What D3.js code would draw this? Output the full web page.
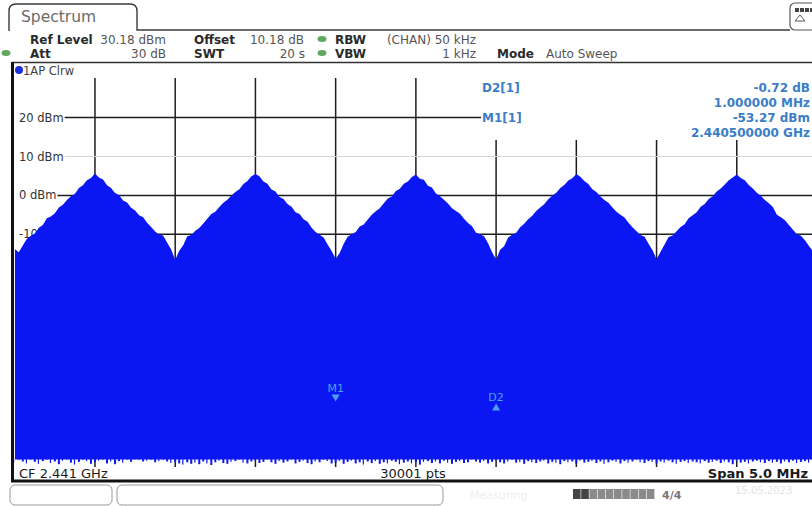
<!DOCTYPE html>
<html><head><meta charset="utf-8">
<script src="https://cdn.jsdelivr.net/npm/d3@7"></script>
<style>body{margin:0;background:#fff;overflow:hidden} svg{display:block;font-family:"DejaVu Sans",sans-serif;}</style>
</head><body><svg id="c" width="812" height="506"></svg>
<script>
// ---- data ----
const startMHz = 2438.5, stopMHz = 2443.5, stepMHz = 0.025;
const refLevel = 30.18, bottomLevel = -69.82;
const traceDbm = [
-13.8,-14.6,-12.9,-11.2,-10.4,-9.8,-8.3,-7.6,-5.9,-5.4,-4.6,-3.1,-2.4,-1.2,-0.2,0.4,1.9,2.6,3.9,4.5,5.6,
4.6,4.1,2.6,1.9,0.6,0.1,-1.3,-1.8,-3.2,-3.9,-5.1,-5.6,-7.0,-8.1,-9.3,-10.1,-10.3,-12.2,-13.9,-16.6,
-14.2,-12.8,-10.5,-10.2,-9.1,-8.4,-7.2,-6.0,-4.8,-4.2,-3.0,-1.9,-1.1,0.0,0.9,1.6,2.9,3.7,4.9,5.5,
4.9,3.6,3.0,1.5,1.0,-0.4,-0.9,-2.2,-2.9,-4.3,-4.8,-6.1,-6.8,-8.3,-9.4,-10.1,-10.8,-12.6,-14.3,-16.3,
-14.8,-12.4,-10.6,-10.0,-9.4,-8.0,-7.5,-6.2,-5.0,-4.1,-3.3,-2.0,-0.8,-0.3,1.1,1.7,3.0,3.6,4.7,5.4,
4.3,4.0,2.5,2.0,0.5,-0.2,-1.1,-2.1,-3.3,-4.0,-4.7,-6.0,-7.1,-7.9,-9.6,-10.0,-10.5,-12.3,-14.6,-16.5,
-14.0,-13.1,-10.8,-10.1,-9.6,-8.2,-7.3,-6.1,-5.2,-4.0,-3.1,-2.3,-1.0,-0.1,0.7,1.9,2.7,3.8,4.4,5.5,
4.8,3.7,2.9,1.6,0.9,-0.3,-1.2,-1.9,-3.1,-4.2,-5.0,-5.7,-7.0,-8.2,-9.2,-10.2,-10.6,-12.4,-14.1,-16.4,
-14.5,-12.6,-10.7,-10.3,-9.2,-8.1,-7.4,-5.9,-5.1,-4.3,-2.9,-2.2,-0.9,-0.2,1.0,1.8,2.8,3.9,4.6,5.4,
4.5,3.9,2.7,1.8,0.7,-0.1,-1.2,-2.0,-3.0,-5.0,-5.6,-6.4,-7.6,-8.8,-10.0,-10.4,-11.5,-13.0,-14.4,-15.8
];
const floorDbm = -67.9;
const floorSpikesDbm = [
-68.6,-67.9,-68.4,-68.9,-67.9,-68.5,-69.0,-68.3,-67.9,-68.8,
-68.4,-69.1,-68.2,-67.9,-68.7,-69.2,-68.5,-67.9,-68.3,-69.0,
-68.6,-68.2,-67.9,-68.9,-68.4,-69.1,-68.3,-68.7,-67.9,-68.5,
-67.9,-67.9,-68.4,-68.2,-67.9,-68.6,-68.3,-67.9,-68.4,-68.8,
-68.5,-68.9,-69.2,-68.6,-69.0,-68.7,-69.1,-68.4,-68.9,-69.3,
-68.6,-68.2,-68.8,-69.0,-68.5,-68.3,-67.9,-68.7,-68.9,-68.4,
-68.2,-68.8,-68.5,-67.9,-68.6,-69.0,-68.3,-68.7,-68.4,-67.9,
-68.9,-68.5,-68.2,-68.8,-69.1,-68.4,-68.6,-67.9,-68.3,-68.9,
-68.7,-68.3,-69.0,-68.5,-68.2,-68.9,-68.6,-69.2,-68.4,-68.8,
-68.3,-69.0,-68.6,-68.9,-68.2,-68.5,-69.1,-68.7,-68.4,-68.9,
-68.6,-69.2,-68.5,-68.3,-68.8,-68.4,-68.9,-68.2,-68.7,-69.0,
-68.5,-68.3,-68.8,-68.6,-67.9,-68.4,-68.7,-68.3,-68.9,-68.5,
-68.2,-68.6,-68.9,-68.4,-67.9,-68.7,-68.5,-69.0,-68.3,-68.6,
-68.8,-68.4,-68.2,-68.9,-68.5,-68.7,-69.1,-68.3,-68.6,-68.4,
-68.9,-68.2,-68.7,-68.5,-68.3,-68.8,-68.4,-69.0,-68.6,-68.2,
-68.5,-68.9,-68.3,-68.7,-68.4,-67.9,-68.6,-68.8,-68.3,-68.5,
-68.9,-68.4,-68.7,-68.2,-68.6,-69.0,-68.5,-68.3,-68.8,-68.4,
-68.6,-68.9,-68.3,-68.7,-68.5,-68.2,-68.8,-68.4,-68.6,-69.1,
-68.3,-68.7,-68.5,-68.9,-68.4,-68.2,-68.6,-68.8,-68.3,-68.7,
-68.5,-68.9,-68.4,-68.6,-68.2,-68.8,-68.5,-68.3,-68.7,-68.4,
-68.6
];
const yTickValues = [20, 10, 0, -10, -20, -30, -40, -50, -60];
const yTickLabels = ["20 dBm", "10 dBm", "0 dBm", "-10 dBm", "-20 dBm", "-30 dBm", "-40 dBm", "-50 dBm", "-60 dBm"];
const xGridMHz = [2439, 2439.5, 2440, 2440.5, 2441, 2441.5, 2442, 2442.5, 2443];
const markerNames = ["M1", "D2"];
const markerMHz = [2440.5, 2441.5];
const markerDbm = [-53.27, -53.99];
const markerInfoLabels = ["D2[1]", "", "M1[1]", ""];
const markerInfoValues = ["-0.72 dB", "1.000000 MHz", "-53.27 dBm", "2.440500000 GHz"];

// ---- layout ----
const svg = d3.select("#c");
const PL = 14.75, PR = 817, PT = 78, PB = 467;
const x = d3.scaleLinear().domain([startMHz, stopMHz]).range([PL, PR]);
const y = d3.scaleLinear().domain([bottomLevel, refLevel]).range([PB, PT]);
const blue = "#0a17f2";
const hdrFont = 12;

// tab
svg.append("path")
  .attr("d", "M9,31 L9,11 Q9,4 16,4 L130,4 Q137,4 137,11 L137,30 L790,30")
  .attr("fill", "none").attr("stroke", "#3a3a3a").attr("stroke-width", 1.4);
svg.append("text").attr("x", 21).attr("y", 22).attr("font-size", 15.5).attr("fill", "#6a6a6a").text("Spectrum");
// top-right icon
svg.append("rect").attr("x", 790).attr("y", 3).attr("width", 30).attr("height", 27).attr("rx", 5)
  .attr("fill", "#fff").attr("stroke", "#555").attr("stroke-width", 1.2);
[0,1,2,3].forEach(k => svg.append("rect").attr("x", 795 + k * 5).attr("y", 8).attr("width", 4).attr("height", 4).attr("fill", "#444"));
svg.append("path").attr("d", "M795,21 L800,15 L805,21 Z").attr("fill", "none").attr("stroke", "#555");

// header rows
function t(xp, yp, s, o = {}) {
  const e = svg.append("text").attr("x", xp).attr("y", yp).attr("font-size", o.size || hdrFont)
    .attr("fill", o.fill || "#2a2a2a").text(s);
  if (o.bold) e.attr("font-weight", "bold");
  if (o.anchor) e.attr("text-anchor", o.anchor);
  return e;
}
const r1 = 43.5, r2 = 57.5;
t(30, r1, "Ref Level", {bold: true});
t(166, r1, "30.18 dBm", {anchor: "end", fill: "#555"});
t(194, r1, "Offset", {bold: true});
t(304, r1, "10.18 dB", {anchor: "end", fill: "#555"});
t(335, r1, "RBW", {bold: true});
t(476, r1, "(CHAN) 50 kHz", {anchor: "end", fill: "#555"});
t(30, r2, "Att", {bold: true});
t(166, r2, "30 dB", {anchor: "end", fill: "#555"});
t(194, r2, "SWT", {bold: true});
t(305, r2, "20 s", {anchor: "end", fill: "#555"});
t(335, r2, "VBW", {bold: true});
t(476, r2, "1 kHz", {anchor: "end", fill: "#555"});
t(497, r2, "Mode", {bold: true});
t(546, r2, "Auto Sweep", {fill: "#555"});
[[322, 39], [322, 53], [6, 53]].forEach(p => svg.append("ellipse").attr("cx", p[0]).attr("cy", p[1])
  .attr("rx", 4.5).attr("ry", 3).attr("fill", "#5fa85f"));

// frame lines
svg.append("line").attr("x1", 12).attr("x2", 812).attr("y1", 62.5).attr("y2", 62.5).attr("stroke", "#333").attr("stroke-width", 1.3);
svg.append("circle").attr("cx", 19).attr("cy", 70).attr("r", 4).attr("fill", "#1a2fd8");
t(23, 74.5, "1AP Clrw", {size: 11.5, fill: "#444"});

// grid
const grid = svg.append("g");
xGridMHz.forEach(f => {
  grid.append("line").attr("x1", x(f)).attr("x2", x(f))
    .attr("y1", x(f) > 478 ? 140 : PT).attr("y2", PB)
    .attr("stroke", "#1e1e1e").attr("stroke-width", 1.5);
});
yTickValues.forEach((v, i) => {
  const lab = grid.append("text").attr("x", 19).attr("y", y(v) + 4).attr("font-size", 11.5).attr("fill", "#333").text(yTickLabels[i]);
  const bb = lab.node().getBBox();
  grid.append("line").attr("x1", bb.x + bb.width + 1).attr("x2", PR).attr("y1", y(v)).attr("y2", y(v))
    .attr("stroke", v === 10 ? "#d6d6d6" : "#1e1e1e").attr("stroke-width", v === 10 ? 1 : 1.5);
});

// marker info box
svg.append("rect").attr("x", 481).attr("y", 79).attr("width", 340).attr("height", 60).attr("fill", "#fff");
const mcol = "#3b7dc6";
const infoY = [92, 107, 122, 137];
markerInfoLabels.forEach((s, i) => { if (s) t(482, infoY[i], s, {bold: true, fill: mcol, size: 12}); });
markerInfoValues.forEach((s, i) => t(810, infoY[i], s, {bold: true, fill: mcol, size: 12, anchor: "end"}));

// trace
const defs = svg.append("defs");
defs.append("clipPath").attr("id", "pc").append("rect").attr("x", PL).attr("y", PT).attr("width", PR - PL).attr("height", PB - PT);
const plot = svg.append("g").attr("clip-path", "url(#pc)");
const freqOf = i => startMHz + i * stepMHz;
plot.append("path").datum(traceDbm)
  .attr("d", d3.area().x((d, i) => x(freqOf(i))).y0(y(floorDbm)).y1(d => y(d)))
  .attr("fill", blue);
plot.selectAll("rect.sp").data(floorSpikesDbm).enter().append("rect").attr("class", "sp")
  .attr("x", (d, i) => x(freqOf(i)) - 1).attr("width", (d, i) => (i % 3 === 0 ? 1.2 : 2))
  .attr("y", y(floorDbm) - 0.5).attr("height", d => Math.max(0, y(d) - y(floorDbm) + 0.5))
  .attr("fill", blue);

// markers on trace
const mk = "#4f9ef0";
markerNames.forEach((n, i) => {
  const px = x(markerMHz[i]), py = y(markerDbm[i]);
  if (i === 0) {
    svg.append("path").attr("d", `M${px - 4},${py - 8} L${px + 4},${py - 8} L${px},${py - 1} Z`).attr("fill", mk);
    t(px, py - 11, n, {anchor: "middle", fill: mk, size: 11});
  } else {
    svg.append("path").attr("d", `M${px - 4},${py + 5} L${px + 4},${py + 5} L${px},${py - 2} Z`).attr("fill", mk);
    t(px, py - 4, n, {anchor: "middle", fill: mk, size: 11});
  }
});

// bottom info
t(19, 478, "CF 2.441 GHz", {size: 13, fill: "#1a1a1a"});
t(413, 478, "30001 pts", {size: 13, fill: "#1a1a1a", anchor: "middle"});
t(808, 478, "Span 5.0 MHz", {size: 13, fill: "#1a1a1a", anchor: "end", bold: true});
// left and bottom frame
svg.append("line").attr("x1", 12.5).attr("x2", 12.5).attr("y1", 62).attr("y2", 482).attr("stroke", "#111").attr("stroke-width", 3);
svg.append("line").attr("x1", 11).attr("x2", 812).attr("y1", 481).attr("y2", 481).attr("stroke", "#111").attr("stroke-width", 3);

// status bar
svg.append("rect").attr("x", 10).attr("y", 485).attr("width", 102).attr("height", 20).attr("rx", 5).attr("fill", "#fff").attr("stroke", "#999");
svg.append("rect").attr("x", 117).attr("y", 485).attr("width", 326).attr("height", 20).attr("rx", 5).attr("fill", "#fff").attr("stroke", "#999");
t(470, 499, "Measuring", {size: 11, fill: "#eeeeee"});
[0,1,2,3,4,5,6,7,8,9].forEach(k => svg.append("rect").attr("x", 573 + k * 8.2).attr("y", 489).attr("width", 7.6).attr("height", 10)
  .attr("fill", k < 2 ? "#444" : "#8a8a8a"));
t(662, 499, "4/4", {size: 11, fill: "#777", bold: true});
t(735, 494, "15.05.2023", {size: 10, fill: "#e4e4e4"});
</script></body></html>
